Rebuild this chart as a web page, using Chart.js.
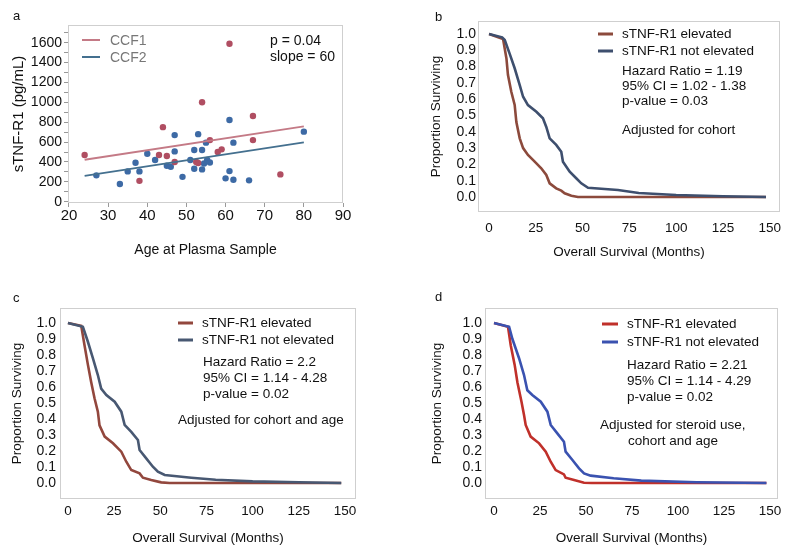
<!DOCTYPE html>
<html>
<head>
<meta charset="utf-8">
<script src="https://cdn.jsdelivr.net/npm/chart.js@4.4.1/dist/chart.umd.min.js"></script>
<style>
  html, body { margin: 0; padding: 0; background: #fff; }
  #wrap { position: relative; width: 787px; height: 548px; overflow: hidden; background: #fff;
          font-family: "Liberation Sans", Arial, sans-serif; color: #111; }
  canvas { position: absolute; }
  .t { position: absolute; white-space: nowrap; transform: translateY(-50%); line-height: 1; }
  .sw { position: absolute; height: 3px; transform: translateY(-50%); }
</style>
</head>
<body>
<div id="wrap">
  <canvas id="ca" width="400" height="270" style="left:0;top:0"></canvas>
  <canvas id="cb" width="387" height="270" style="left:400px;top:0"></canvas>
  <canvas id="cc" width="400" height="278" style="left:0;top:270px"></canvas>
  <canvas id="cd" width="387" height="278" style="left:400px;top:270px"></canvas>

  <!-- panel letters -->
  <div class="t" style="left:13px;top:15px;font-size:13px">a</div>
  <div class="t" style="left:435px;top:16px;font-size:13px">b</div>
  <div class="t" style="left:13px;top:297px;font-size:13px">c</div>
  <div class="t" style="left:435px;top:296px;font-size:13px">d</div>

  <!-- panel a legend / stats -->
  <div class="sw" style="left:82px;top:40px;width:18px;height:2px;background:#c47a86"></div>
  <div class="t" style="left:110px;top:40px;font-size:14px;color:#777">CCF1</div>
  <div class="sw" style="left:82px;top:57px;width:18px;height:2px;background:#44708f"></div>
  <div class="t" style="left:110px;top:57px;font-size:14px;color:#777">CCF2</div>
  <div class="t" style="left:270px;top:39.5px;font-size:14px">p = 0.04</div>
  <div class="t" style="left:270px;top:55.5px;font-size:14px">slope = 60</div>

  <!-- panel b legend / stats -->
  <div class="sw" style="left:598px;top:33.5px;width:15px;background:#8c4a3c"></div>
  <div class="t" style="left:622px;top:33.5px;font-size:13.5px">sTNF-R1 elevated</div>
  <div class="sw" style="left:598px;top:50.5px;width:15px;background:#3e4f6e"></div>
  <div class="t" style="left:622px;top:50.5px;font-size:13.5px">sTNF-R1 not elevated</div>
  <div class="t" style="left:622px;top:71px;font-size:13.5px">Hazard Ratio = 1.19</div>
  <div class="t" style="left:622px;top:86px;font-size:13.5px">95% CI = 1.02 - 1.38</div>
  <div class="t" style="left:622px;top:101px;font-size:13.5px">p-value = 0.03</div>
  <div class="t" style="left:622px;top:130px;font-size:13.5px">Adjusted for cohort</div>

  <!-- panel c legend / stats -->
  <div class="sw" style="left:178px;top:322.5px;width:15px;background:#92473d"></div>
  <div class="t" style="left:202px;top:322.5px;font-size:13.5px">sTNF-R1 elevated</div>
  <div class="sw" style="left:178px;top:340px;width:15px;background:#485872"></div>
  <div class="t" style="left:202px;top:340px;font-size:13.5px">sTNF-R1 not elevated</div>
  <div class="t" style="left:203px;top:362px;font-size:13.5px">Hazard Ratio = 2.2</div>
  <div class="t" style="left:203px;top:377.5px;font-size:13.5px">95% CI = 1.14 - 4.28</div>
  <div class="t" style="left:203px;top:394px;font-size:13.5px">p-value = 0.02</div>
  <div class="t" style="left:178px;top:420px;font-size:13.5px">Adjusted for cohort and age</div>

  <!-- panel d legend / stats -->
  <div class="sw" style="left:602px;top:323.5px;width:16px;background:#c0302a"></div>
  <div class="t" style="left:627px;top:323.5px;font-size:13.5px">sTNF-R1 elevated</div>
  <div class="sw" style="left:602px;top:341.5px;width:16px;background:#3a52b0"></div>
  <div class="t" style="left:627px;top:341.5px;font-size:13.5px">sTNF-R1 not elevated</div>
  <div class="t" style="left:627px;top:365px;font-size:13.5px">Hazard Ratio = 2.21</div>
  <div class="t" style="left:627px;top:381px;font-size:13.5px">95% CI = 1.14 - 4.29</div>
  <div class="t" style="left:627px;top:397px;font-size:13.5px">p-value = 0.02</div>
  <div class="t" style="left:600px;top:425px;font-size:13.5px">Adjusted for steroid use,</div>
  <div class="t" style="left:628px;top:441px;font-size:13.5px">cohort and age</div>
</div>

<script>
// ---------- Panel a data ----------
const ageCCF1 = [24, 38, 44, 43, 45, 47, 52.5, 53, 54, 56, 58, 59, 61, 67, 67, 74];
const valCCF1 = [470, 210, 750, 470, 460, 400, 400, 390, 1000, 620, 500, 527, 1590, 862, 620, 275];
const ageCCF2 = [27, 33, 35, 37, 38, 40, 42, 45, 46, 47, 47, 49, 51, 52, 52, 53, 54, 54, 54.5, 55.3, 56, 55, 61, 61, 60, 62, 62, 66, 80];
const valCCF2 = [265, 178, 305, 392, 305, 483, 420, 362, 352, 670, 506, 250, 420, 520, 332, 680, 520, 325, 385, 420, 395, 594, 822, 308, 235, 594, 221, 215, 705];
const fitAge = [24, 80];
const fitCCF1 = [422, 758];
const fitCCF2 = [260, 597];
const aXTicks = [20, 30, 40, 50, 60, 70, 80, 90];
const aYTicks = [0, 100, 200, 300, 400, 500, 600, 700, 800, 900, 1000, 1100, 1200, 1300, 1400, 1500, 1600, 1700];

// ---------- Survival data (months, proportion surviving) ----------
const bRedT  = [0, 7.5, 9.3, 10.1, 11.9, 13.7, 14.6, 16.4, 18.2, 20.8, 24.4, 27.9, 30.6, 32.4, 35.9, 38.6, 40.4, 44, 47.5, 148];
const bRedS  = [1, 0.97, 0.85, 0.75, 0.646, 0.565, 0.46, 0.36, 0.30, 0.258, 0.217, 0.176, 0.135, 0.084, 0.053, 0.039, 0.023, 0.008, 0, 0];
const bBlueT = [0, 7, 8.4, 11, 13.7, 16.4, 18.2, 20.8, 25.3, 28.8, 30.6, 32.4, 35.9, 38.6, 39.5, 43.1, 46.6, 49.3, 52.9, 68.9, 80, 100, 125, 148];
const bBlueS = [1, 0.98, 0.963, 0.88, 0.79, 0.687, 0.615, 0.564, 0.523, 0.483, 0.43, 0.36, 0.32, 0.278, 0.217, 0.155, 0.115, 0.084, 0.057, 0.043, 0.025, 0.012, 0.005, 0];

const cRedT  = [0, 7.2, 9, 10.8, 12.6, 14.4, 16.2, 17.1, 19.9, 24.4, 28.9, 31.6, 34.3, 38.8, 40.6, 45.1, 50.5, 55, 148];
const cRedS  = [1, 0.983, 0.86, 0.74, 0.63, 0.53, 0.446, 0.36, 0.29, 0.248, 0.196, 0.133, 0.081, 0.06, 0.033, 0.019, 0.004, 0, 0];
const cBlueT = [0, 8.1, 10.8, 13.5, 16.2, 18, 20.8, 25.3, 28.9, 30.7, 34.3, 37.9, 38.8, 42.4, 46, 48.7, 52.4, 66.8, 80, 100, 125, 148];
const cBlueS = [1, 0.977, 0.883, 0.78, 0.675, 0.59, 0.55, 0.508, 0.446, 0.363, 0.32, 0.269, 0.206, 0.154, 0.102, 0.071, 0.05, 0.033, 0.02, 0.01, 0.005, 0];

const dRedT  = [0, 7.6, 9.1, 11.2, 12.7, 14.9, 16.3, 17.2, 19.9, 24.5, 28.1, 30.8, 33.5, 38, 38.9, 43.5, 48.9, 53, 148];
const dRedS  = [1, 0.977, 0.86, 0.74, 0.63, 0.51, 0.425, 0.363, 0.29, 0.248, 0.196, 0.133, 0.081, 0.054, 0.033, 0.019, 0.002, 0, 0];
const dBlueT = [0, 8.2, 10, 13.6, 16.3, 18.1, 20.8, 25.4, 29, 30.8, 34.4, 38, 38.9, 42.6, 46.2, 48.9, 52.5, 65, 80, 110, 148];
const dBlueS = [1, 0.977, 0.9, 0.78, 0.675, 0.58, 0.55, 0.508, 0.446, 0.363, 0.31, 0.258, 0.196, 0.144, 0.092, 0.06, 0.046, 0.03, 0.015, 0.005, 0];

const kmXTicks = [0, 25, 50, 75, 100, 125, 150];
const kmYTicks = [0, 0.1, 0.2, 0.3, 0.4, 0.5, 0.6, 0.7, 0.8, 0.9, 1.0];

// ---------- helpers ----------
const FONT = '"Liberation Sans", Arial, sans-serif';
Chart.defaults.font.family = FONT;
Chart.defaults.color = '#111';

const zip = (xs, ys) => xs.map((x, i) => ({ x: x, y: ys[i] }));
const fixX = h => s => { s.height = h; s.paddingLeft = 0; s.paddingRight = 0; };
const fixY = w => s => { s.width = w; s.paddingTop = 0; s.paddingBottom = 0; };
const frame = {
  id: 'frame',
  afterDraw(chart) {
    const a = chart.chartArea, ctx = chart.ctx;
    ctx.save();
    ctx.strokeStyle = '#cfcfcf';
    ctx.lineWidth = 1;
    ctx.strokeRect(Math.round(a.left) + 0.5, Math.round(a.top) + 0.5,
                   Math.round(a.right - a.left) - 1, Math.round(a.bottom - a.top) - 1);
    ctx.restore();
  }
};

// ---------- Panel a ----------
new Chart(document.getElementById('ca'), {
  type: 'scatter',
  data: {
    datasets: [
      { data: zip(fitAge, fitCCF1), type: 'line', borderColor: '#c47a86', borderWidth: 2, pointRadius: 0, fill: false },
      { data: zip(fitAge, fitCCF2), type: 'line', borderColor: '#44708f', borderWidth: 2, pointRadius: 0, fill: false },
      { data: zip(ageCCF1, valCCF1), backgroundColor: '#b04e62', borderWidth: 0, pointRadius: 3.2 },
      { data: zip(ageCCF2, valCCF2), backgroundColor: '#3d6aa5', borderWidth: 0, pointRadius: 3.2 }
    ]
  },
  options: {
    responsive: false, animation: false,
    layout: { padding: { left: 0, right: 57, top: 25, bottom: 0 } },
    plugins: { legend: { display: false }, tooltip: { enabled: false } },
    scales: {
      x: {
        type: 'linear', min: 19.75, max: 90,
        afterBuildTicks: s => { s.ticks = aXTicks.map(v => ({ value: v })); },
        afterFit: fixX(67),
        grid: { display: true, drawOnChartArea: false, drawTicks: true, tickLength: 4, color: '#999' },
        border: { display: false },
        ticks: { font: { size: 15 }, padding: 0, color: '#111', maxRotation: 0, autoSkip: false },
        title: { display: true, text: 'Age at Plasma Sample', font: { size: 14 }, color: '#111', padding: { top: 0, bottom: 11.5 } }
      },
      y: {
        type: 'linear', min: -13, max: 1778,
        afterBuildTicks: s => { s.ticks = aYTicks.map(v => ({ value: v })); },
        afterFit: fixY(68),
        grid: { display: true, drawOnChartArea: false, drawTicks: true, tickLength: 4, color: '#999' },
        border: { display: false },
        ticks: { font: { size: 14 }, padding: 2, color: '#111', autoSkip: false, callback: v => (v % 200 === 0 ? String(v) : '') },
        title: { display: true, text: 'sTNF-R1 (pg/mL)', font: { size: 15 }, color: '#111', padding: { top: 10, bottom: 0 } }
      }
    }
  },
  plugins: [frame]
});

// ---------- KM panels ----------
function km(id, cfg) {
  new Chart(document.getElementById(id), {
    type: 'line',
    data: {
      datasets: [
        { data: zip(cfg.blueT, cfg.blueS), borderColor: cfg.blue, borderWidth: 2.6, pointRadius: 0, tension: 0, fill: false },
        { data: zip(cfg.redT, cfg.redS), borderColor: cfg.red, borderWidth: 2.6, pointRadius: 0, tension: 0, fill: false }
      ]
    },
    options: {
      responsive: false, animation: false,
      layout: { padding: { left: 0, right: cfg.padRight, top: cfg.padTop, bottom: 0 } },
      plugins: { legend: { display: false }, tooltip: { enabled: false } },
      scales: {
        x: {
          type: 'linear', min: cfg.xMin, max: cfg.xMax,
          afterBuildTicks: s => { s.ticks = kmXTicks.map(v => ({ value: v })); },
          afterFit: fixX(cfg.xH),
          grid: { display: false, drawTicks: false },
          border: { display: false },
          ticks: { font: { size: 13.5 }, padding: cfg.xPad, color: '#111', maxRotation: 0, autoSkip: false },
          title: { display: true, text: 'Overall Survival (Months)', font: { size: 13.5 }, color: '#111', padding: { top: 0, bottom: cfg.xTitlePad } }
        },
        y: {
          type: 'linear', min: cfg.yMin, max: cfg.yMax,
          afterBuildTicks: s => { s.ticks = kmYTicks.map(v => ({ value: v })); },
          afterFit: fixY(cfg.yW),
          grid: { display: false, drawTicks: false },
          border: { display: false },
          ticks: { font: { size: 14 }, padding: cfg.yPad, color: '#111', autoSkip: false, callback: v => Number(v).toFixed(1) },
          title: { display: true, text: 'Proportion Surviving', font: { size: 13.5 }, color: '#111', padding: { top: cfg.yTitlePad, bottom: 0 } }
        }
      }
    },
    plugins: [frame]
  });
}

km('cb', { redT: bRedT, redS: bRedS, blueT: bBlueT, blueS: bBlueS, red: '#8c4a3c', blue: '#3e4f6e',
  padRight: 7, padTop: 21, xH: 58, yW: 78, xMin: -5.9, xMax: 155.5, yMin: -0.092, yMax: 1.08,
  xPad: 8, yPad: 2, xTitlePad: 10, yTitlePad: 28.5 });
km('cc', { redT: cRedT, redS: cRedS, blueT: cBlueT, blueS: cBlueS, red: '#92473d', blue: '#485872',
  padRight: 44, padTop: 38, xH: 49, yW: 60, xMin: -4.3, xMax: 156, yMin: -0.1, yMax: 1.094,
  xPad: 4, yPad: 4, xTitlePad: 1.5, yTitlePad: 9 });
km('cd', { redT: dRedT, redS: dRedS, blueT: dBlueT, blueS: dBlueS, red: '#c0302a', blue: '#3a52b0',
  padRight: 9, padTop: 38, xH: 49, yW: 85, xMin: -4.9, xMax: 154.3, yMin: -0.1, yMax: 1.094,
  xPad: 4, yPad: 3, xTitlePad: 2, yTitlePad: 29.5 });
</script>
</body>
</html>
